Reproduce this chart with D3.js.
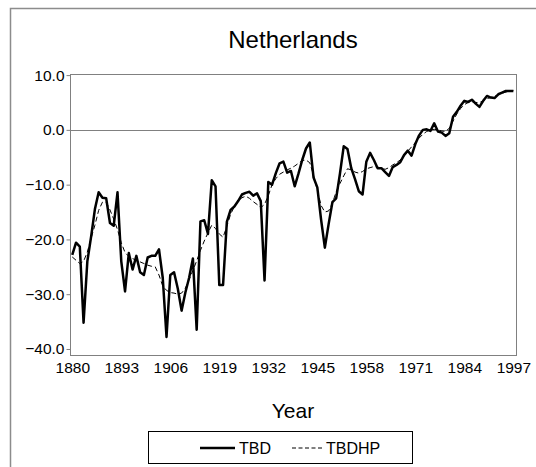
<!DOCTYPE html>
<html>
<head>
<meta charset="utf-8">
<script src="https://cdn.jsdelivr.net/npm/d3@7"></script>
<style>
  body { margin: 0; background: #fff; }
  svg { display: block; font-family: "Liberation Sans", Arial, sans-serif; }
</style>
</head>
<body>
<div id="root"></div>
<script>
const firstYear = 1880;
const tbd = [
  -22.8, -20.6, -21.3, -35.2, -24, -19.5, -14.5, -11.4, -12.4, -12.5,
  -17, -17.5, -11.4, -24, -29.5, -22.5, -25.5, -23, -26, -26.5,
  -23.3, -23, -23, -21.8, -27, -37.8, -26.5, -26, -29, -33,
  -29.7, -27, -23.5, -36.5, -16.7, -16.5, -19, -9.2, -10.3, -28.3,
  -28.3, -16.8, -14.6, -14, -13, -11.8, -11.5, -11.3, -12, -11.6,
  -13, -27.5, -9.5, -10, -7.9, -6.1, -5.8, -7.8, -7.5, -10.3,
  -8, -5.5, -3.4, -2.3, -8.7, -10.5, -16.4, -21.5, -17.2, -13.2,
  -12.5, -8, -3, -3.5, -7, -9, -11.2, -11.8, -5.8, -4.2,
  -5.5, -7, -7, -7.7, -8.4, -6.8, -6.4, -5.9, -4.6, -3.8,
  -4.7, -2.6, -1, 0, 0.1, -0.2, 1.2, -0.3, -0.5, -1.1,
  -0.6, 2.4, 3.3, 4.4, 5.3, 5.1, 5.5, 4.8, 4.2, 5.3,
  6.2, 5.9, 5.8, 6.5, 6.8, 7.1, 7.1, 7.1
];
const tbdhp = [
  -23.2, -23.8, -24.4, -24.0, -22.3, -19.8, -17.4, -14.7, -13.2, -13.2,
  -14.6, -16.3, -18.2, -20.6, -22.4, -23.1, -23.5, -23.8, -24.1, -24.4,
  -24.7, -24.9, -25.0, -26.5, -28.5, -29.3, -29.7, -29.8, -30.0, -29.8,
  -28.9, -27.3, -25.7, -23.9, -22.0, -20.3, -18.8, -17.4, -18.0, -19.0,
  -19.6, -17.6, -15.4, -14.0, -13.0, -12.4, -12.1, -12.5, -13.1, -13.6,
  -14.2, -13.6, -12.0, -10.0, -8.9, -8.1, -7.7, -7.3, -7.0, -6.6,
  -6.1, -5.6, -5.5, -6.0, -8.3, -11.0, -13.8, -15.0, -14.8, -13.4,
  -11.3, -9.8, -8.4, -7.1, -7.3, -7.7, -7.9, -7.6, -7.1, -6.9,
  -6.7, -6.8, -7.0, -7.2, -6.9, -6.4, -6.0, -5.5, -4.8, -3.9,
  -3.1, -2.3, -1.5, -0.8, -0.3, 0.0, 0.1, 0.0, -0.2, -0.3,
  0.3, 1.6, 2.9, 3.9, 4.6, 5.0, 5.1, 5.0, 5.0, 5.3,
  5.7, 5.9, 6.1, 6.4, 6.7, 6.9, 7.1, 7.2
];
const xTicks = [1880, 1893, 1906, 1919, 1932, 1945, 1958, 1971, 1984, 1997];
const yTicks = [10, 0, -10, -20, -30, -40];

const width = 536;
const height = 467;
const box = { left: 70, right: 516, top: 74, bottom: 355 };
const font = "Liberation Sans, Arial, sans-serif";

const svg = d3
  .select("#root")
  .append("svg")
  .attr("width", width)
  .attr("height", height);

// outer frame (runs off the right and bottom edges)
svg
  .append("rect")
  .attr("x", 10.5)
  .attr("y", 8.5)
  .attr("width", 600)
  .attr("height", 600)
  .attr("fill", "none")
  .attr("stroke", "#8c8c8c")
  .attr("stroke-width", 1.5);

const x = d3.scaleLinear().domain([1879.4, 1997.7]).range([box.left, box.right]);
const y = d3.scaleLinear().domain([-41.1, 10.2]).range([box.bottom, box.top]);

// plot box
svg
  .append("rect")
  .attr("x", box.left + 0.5)
  .attr("y", box.top + 0.5)
  .attr("width", box.right - box.left)
  .attr("height", box.bottom - box.top)
  .attr("fill", "none")
  .attr("stroke", "#808080")
  .attr("stroke-width", 1);

// zero line
svg
  .append("line")
  .attr("x1", box.left)
  .attr("x2", box.right)
  .attr("y1", Math.round(y(0)) + 0.5)
  .attr("y2", Math.round(y(0)) + 0.5)
  .attr("stroke", "#808080")
  .attr("stroke-width", 1.2);

// y axis
const yAxis = svg
  .append("g")
  .attr("transform", `translate(${box.left + 0.5},0)`)
  .call(
    d3.axisLeft(y)
      .tickValues(yTicks)
      .tickSize(4)
      .tickPadding(2)
      .tickFormat(d3.format(".1f"))
  );
yAxis.select(".domain").remove();
yAxis.selectAll(".tick line").attr("stroke", "#808080");
yAxis.selectAll(".tick text")
  .attr("font-size", 15.5)
  .attr("fill", "#000")
  .attr("font-family", font);

// x axis labels
const xAxis = svg
  .append("g")
  .attr("transform", `translate(0,${box.bottom})`)
  .call(d3.axisBottom(x).tickValues(xTicks).tickSize(0).tickPadding(7).tickFormat(d3.format("d")));
xAxis.select(".domain").remove();
xAxis.selectAll(".tick text")
  .attr("font-size", 15.5)
  .attr("fill", "#000")
  .attr("font-family", font);

const years = tbd.map((d, i) => firstYear + i);

const line = d3
  .line()
  .x((d, i) => x(years[i]))
  .y((d) => y(d));

svg
  .append("path")
  .datum(tbdhp)
  .attr("fill", "none")
  .attr("stroke", "#000")
  .attr("stroke-width", 1)
  .attr("stroke-dasharray", "5,3")
  .attr("d", line);

svg
  .append("path")
  .datum(tbd)
  .attr("fill", "none")
  .attr("stroke", "#000")
  .attr("stroke-width", 2.5)
  .attr("stroke-linejoin", "round")
  .attr("d", line);

// title
svg
  .append("text")
  .text("Netherlands")
  .attr("x", 293)
  .attr("y", 48)
  .attr("text-anchor", "middle")
  .attr("font-size", 24);

// axis title
svg
  .append("text")
  .text("Year")
  .attr("x", 293)
  .attr("y", 418)
  .attr("text-anchor", "middle")
  .attr("font-size", 21);

// legend
const legend = svg.append("g");
legend
  .append("rect")
  .attr("x", 148.5)
  .attr("y", 431.5)
  .attr("width", 264)
  .attr("height", 32)
  .attr("fill", "#fff")
  .attr("stroke", "#000")
  .attr("stroke-width", 1);

const legendItems = [
  { name: "TBD", x1: 200, x2: 235, width: 2.5, dash: null },
  { name: "TBDHP", x1: 292, x2: 322, width: 1, dash: "4,2.5" }
];
legendItems.forEach((d) => {
  legend
    .append("line")
    .attr("x1", d.x1)
    .attr("x2", d.x2)
    .attr("y1", 448)
    .attr("y2", 448)
    .attr("stroke", "#000")
    .attr("stroke-width", d.width)
    .attr("stroke-dasharray", d.dash);
  legend
    .append("text")
    .text(d.name)
    .attr("x", d.x2 + 4)
    .attr("y", 454)
    .attr("font-size", 16);
});
</script>
</body>
</html>
